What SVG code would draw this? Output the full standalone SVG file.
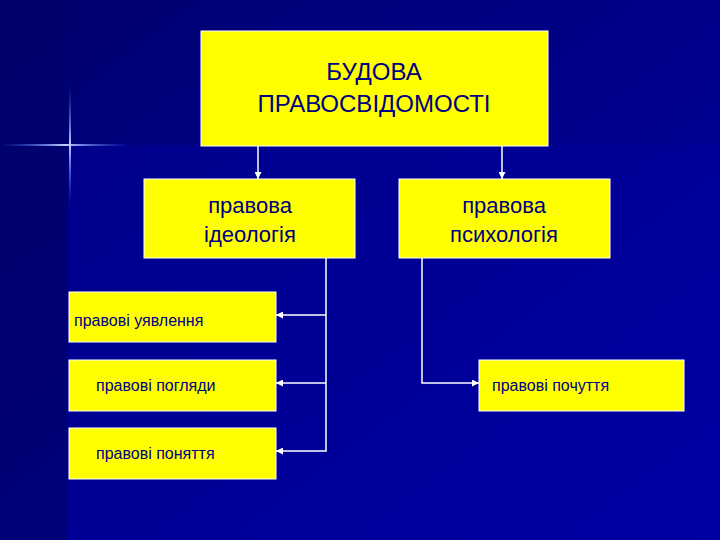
<svg xmlns="http://www.w3.org/2000/svg" width="720" height="540" viewBox="0 0 720 540">
<defs>
<linearGradient id="bg" x1="0" y1="0" x2="1" y2="1"><stop offset="0" stop-color="#00006e"/><stop offset="1" stop-color="#0000a6"/></linearGradient>
<linearGradient id="hf" x1="0" x2="1"><stop offset="0" stop-color="#3060ff" stop-opacity="0"/><stop offset="0.5" stop-color="#c0d0ff"/><stop offset="1" stop-color="#3060ff" stop-opacity="0"/></linearGradient>
<linearGradient id="vf" x1="0" y1="0" x2="0" y2="1"><stop offset="0" stop-color="#3060ff" stop-opacity="0"/><stop offset="0.5" stop-color="#c0d0ff"/><stop offset="1" stop-color="#3060ff" stop-opacity="0"/></linearGradient>
<marker id="ah" viewBox="0 0 10 10" refX="10" refY="5" markerWidth="7" markerHeight="7" markerUnits="userSpaceOnUse" orient="auto"><path d="M0,0L10,5L0,10z" fill="#fff"/></marker>
</defs>
<style>
.b{fill:#ffff00;stroke:#fff;stroke-width:1}
.t{font-family:"Liberation Sans",Arial,sans-serif;fill:#000080;text-anchor:middle}
.s{font-family:"Liberation Sans",Arial,sans-serif;fill:#000080;font-size:16px}
.c{stroke:#fff;stroke-width:1.5;fill:none;marker-end:url(#ah)}
</style>
<rect width="720" height="540" fill="url(#bg)"/>
<rect x="68" y="145" width="652" height="395" fill="#0000a0" opacity="0.5"/>
<rect x="0" y="0" width="68" height="540" fill="#00006a" opacity="0.6"/>
<rect x="0" y="144" width="130" height="2" fill="url(#hf)"/>
<rect x="69" y="85" width="2" height="120" fill="url(#vf)"/>
<g id="connectors">
<path class="c" d="M258,146V179"/>
<path class="c" d="M502,146V179"/>
<path class="c" d="M326,258V451H276"/>
<path class="c" d="M326,315H276"/>
<path class="c" d="M326,383H276"/>
<path class="c" d="M422,258V383H479"/>
</g>
<g id="root"><rect class="b" x="201" y="31" width="347" height="115"/><text class="t" font-size="24" x="374" y="80">БУДОВА</text><text class="t" font-size="24" x="374" y="112">ПРАВОСВІДОМОСТІ</text></g>
<g id="ideology"><rect class="b" x="144" y="179" width="211" height="79"/><text class="t" font-size="22" x="250" y="213">правова</text><text class="t" font-size="22" x="250" y="242">ідеологія</text></g>
<g id="psychology"><rect class="b" x="399" y="179" width="211" height="79"/><text class="t" font-size="22" x="504" y="213">правова</text><text class="t" font-size="22" x="504" y="242">психологія</text></g>
<g id="n1"><rect class="b" x="69" y="292" width="207" height="50"/><text class="s" x="74" y="326">правові уявлення</text></g>
<g id="n2"><rect class="b" x="69" y="360" width="207" height="51"/><text class="s" x="96" y="391">правові погляди</text></g>
<g id="n3"><rect class="b" x="69" y="428" width="207" height="51"/><text class="s" x="96" y="459">правові поняття</text></g>
<g id="n4"><rect class="b" x="479" y="360" width="205" height="51"/><text class="s" x="492" y="391">правові почуття</text></g>
</svg>
